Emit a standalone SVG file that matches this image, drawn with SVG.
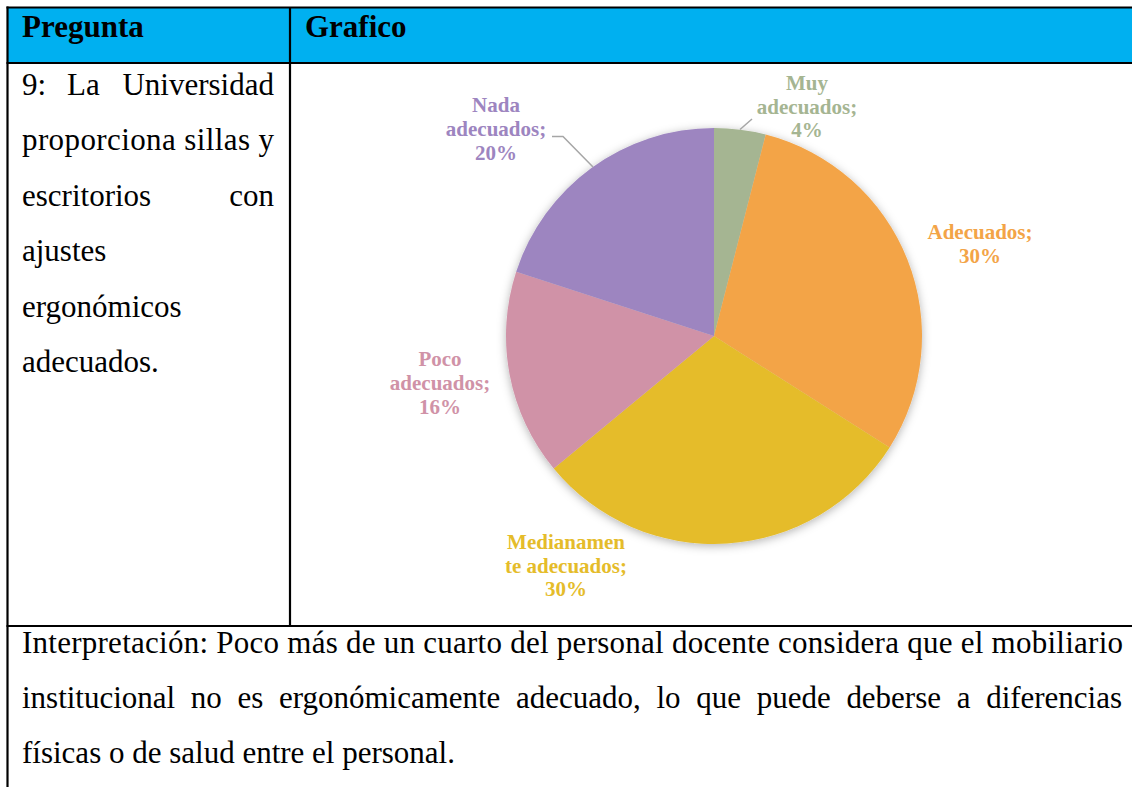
<svg xmlns="http://www.w3.org/2000/svg" width="1132" height="787" viewBox="0 0 1132 787">
<style>
.body{font-family:"Liberation Serif","Times New Roman",serif;font-size:31px;fill:#000}
.hdr{font-family:"Liberation Serif","Times New Roman",serif;font-size:31px;font-weight:bold;fill:#000}
.lbl{font-family:"Liberation Serif","Times New Roman",serif;font-size:21px;font-weight:bold;text-anchor:middle}
.border{stroke:#000;stroke-width:2.2;fill:none}
.leader{stroke:#A6A6A6;stroke-width:1.5;fill:none}
</style>
<defs>
<filter id="shadow" x="-20%" y="-20%" width="140%" height="140%">
<feDropShadow dx="0" dy="2" stdDeviation="5" flood-color="#000" flood-opacity="0.3"/>
</filter>
</defs>
<rect width="1132" height="787" fill="#fff"/>
<g id="table">
<rect x="7" y="7.5" width="1130" height="55" fill="#00B0F0"/>
<line class="border" x1="6.5" y1="7.5" x2="1132" y2="7.5"/>
<line class="border" x1="6.5" y1="63" x2="1132" y2="63"/>
<line class="border" x1="6.5" y1="626" x2="1132" y2="626"/>
<line class="border" x1="7.5" y1="6.5" x2="7.5" y2="787"/>
<line class="border" x1="290" y1="7.5" x2="290" y2="626"/>
<text class="hdr" x="22" y="37">Pregunta</text>
<text class="hdr" x="305" y="37">Grafico</text>
</g>
<g id="question">
<text class="body" x="22" y="94.5">9:</text>
<text class="body" x="67" y="94.5">La</text>
<text class="body" x="274" y="94.5" text-anchor="end">Universidad</text>
<text class="body" x="22" y="150" textLength="252" lengthAdjust="spacing">proporciona sillas y</text>
<text class="body" x="22" y="205.5">escritorios</text>
<text class="body" x="274" y="205.5" text-anchor="end">con</text>
<text class="body" x="22" y="261">ajustes</text>
<text class="body" x="22" y="316.5">ergonómicos</text>
<text class="body" x="22" y="372">adecuados.</text>
</g>
<g id="pie" filter="url(#shadow)">
<g id="slice-muy"><path d="M714,336 L714,128 A208,208 0 0 1 765.73,134.54 Z" fill="#A5B592"/></g>
<g id="slice-adecuados"><path d="M714,336 L765.73,134.54 A208,208 0 0 1 889.62,447.45 Z" fill="#F3A447"/></g>
<g id="slice-medianamente"><path d="M714,336 L889.62,447.45 A208,208 0 0 1 553.73,468.58 Z" fill="#E5BC2A"/></g>
<g id="slice-poco"><path d="M714,336 L553.73,468.58 A208,208 0 0 1 516.18,271.72 Z" fill="#D092A7"/></g>
<g id="slice-nada"><path d="M714,336 L516.18,271.72 A208,208 0 0 1 714,128 Z" fill="#9D85C0"/></g>
</g>
<g id="connectors">
<polyline class="leader" points="552,136.5 563,136.5 593,167"/>
<line class="leader" x1="740" y1="129.5" x2="752" y2="119"/>
</g>
<g id="label-muy" fill="#A5B592">
<text class="lbl" x="807" y="90">Muy</text>
<text class="lbl" x="807" y="113.5">adecuados;</text>
<text class="lbl" x="807" y="137">4%</text>
</g>
<g id="label-nada" fill="#9D85C0">
<text class="lbl" x="496" y="112">Nada</text>
<text class="lbl" x="496" y="136">adecuados;</text>
<text class="lbl" x="496" y="160">20%</text>
</g>
<g id="label-adecuados" fill="#F3A447">
<text class="lbl" x="980" y="238.5">Adecuados;</text>
<text class="lbl" x="980" y="263">30%</text>
</g>
<g id="label-poco" fill="#D092A7">
<text class="lbl" x="440" y="366">Poco</text>
<text class="lbl" x="440" y="390">adecuados;</text>
<text class="lbl" x="440" y="414">16%</text>
</g>
<g id="label-medianamente" fill="#E5BC2A">
<text class="lbl" x="566" y="549">Medianamen</text>
<text class="lbl" x="566" y="572.5">te adecuados;</text>
<text class="lbl" x="566" y="596">30%</text>
</g>
<g id="interpretation">
<text class="body" x="22" y="653" textLength="1101" lengthAdjust="spacing">Interpretación: Poco más de un cuarto del personal docente considera que el mobiliario</text>
<text class="body" x="22" y="708" textLength="1100" lengthAdjust="spacing" word-spacing="8">institucional no es ergonómicamente adecuado, lo que puede deberse a diferencias</text>
<text class="body" x="22" y="763">físicas o de salud entre el personal.</text>
</g>
</svg>
